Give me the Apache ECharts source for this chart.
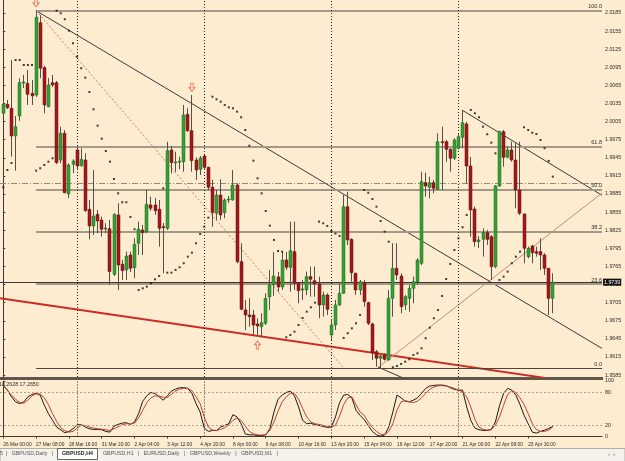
<!DOCTYPE html>
<html>
<head>
<meta charset="utf-8">
<script src="https://cdn.jsdelivr.net/npm/echarts@6/dist/echarts.min.js"></script>
<style>
  html, body { margin: 0; padding: 0; background: #fdecd0; }
  #chart { width: 625px; height: 461px; }
</style>
</head>
<body>
<div id="chart"></div>
<script>
// GBPUSD,H4 - one bar per entry, first bar 26 Mar 00:00
var opens = [2.00188,2.00337,2.00271,1.99812,2.00143,2.00690,2.00685,2.00519,2.00491,2.01689,
  2.00944,2.00297,2.00695,2.00695,1.99414,1.99857,1.98851,1.99343,1.99580,1.99320,
  1.99414,1.98597,1.98321,1.98514,1.98420,1.98276,1.98276,1.97520,1.98503,1.97686,
  1.97592,1.97840,1.97630,1.98034,1.98254,1.98226,1.98669,1.98669,1.98597,1.98309,
  1.98282,1.99580,1.99370,1.99386,1.99386,2.00171,1.99900,1.99414,1.99260,1.99481,
  1.99293,1.98962,1.98531,1.98834,1.98541,1.98751,1.98751,1.98999,1.97729,1.96929,
  1.96846,1.96846,1.96697,1.96652,1.96708,1.97144,1.97343,1.97476,1.97310,1.97757,
  1.97636,1.97895,1.97371,1.97260,1.97260,1.97481,1.97414,1.97360,1.97012,1.97177,
  1.96515,1.96680,1.97012,1.97205,1.98640,1.98100,1.97537,1.97260,1.97371,1.97050,
  1.96697,1.96238,1.96128,1.96183,1.96100,1.97122,1.97620,1.97492,1.97012,1.97122,
  1.97288,1.97398,1.97702,1.99038,1.98962,1.99038,1.98929,1.99717,1.99717,1.99591,
  1.99442,1.99608,1.99790,2.00011,1.99315,1.98602,1.98060,1.98100,1.98210,1.98143,
  1.97646,1.98983,1.99883,1.99459,1.99580,1.99414,1.98917,1.98519,1.97812,1.97989,
  1.97895,1.97895,1.97840,1.97620,1.97122];
var closes = [2.00342,2.00281,1.99812,1.99966,2.00695,2.00707,2.00503,2.00475,2.01779,2.00934,
  2.00326,2.00657,2.00657,1.99370,1.99857,1.98872,1.99331,1.99398,1.99315,1.99426,
  1.98574,1.98321,1.98486,1.98403,1.98266,1.98287,1.97564,1.98514,1.97674,1.97580,
  1.97823,1.97620,1.98017,1.98266,1.98210,1.98680,1.98614,1.98574,1.98282,1.98292,
  1.99568,1.99370,1.99381,1.99394,2.00160,1.99900,1.99403,1.99248,1.99447,1.99293,
  1.98962,1.98541,1.98834,1.98503,1.98751,1.98768,1.98999,1.97729,1.96940,1.96846,
  1.96818,1.96680,1.96664,1.96718,1.97122,1.97343,1.97492,1.97310,1.97757,1.97636,
  1.97911,1.97371,1.97248,1.97277,1.97481,1.97437,1.97360,1.97012,1.97177,1.96940,
  1.96680,1.97012,1.97205,1.98640,1.98089,1.97547,1.97260,1.97398,1.97066,1.96708,
  1.96221,1.96128,1.96166,1.96112,1.97122,1.97620,1.97509,1.96983,1.97149,1.97288,
  1.97398,1.97757,1.99055,1.98983,1.99038,1.98945,1.99717,1.99701,1.99591,1.99442,
  1.99746,1.99800,2.00032,1.99315,1.98586,1.98060,1.98089,1.98210,1.98100,1.97646,
  1.98983,1.99883,1.99459,1.99580,1.99414,1.98917,1.98531,1.97951,1.97951,1.97878,
  1.97868,1.97840,1.97620,1.97122,1.97390];
var lows = [2.00160,2.00259,1.99469,1.99237,2.00065,2.00607,2.00326,2.00326,2.00458,2.00768,
  2.00188,2.00287,2.00624,1.99348,1.99360,1.98862,1.98779,1.99194,1.99248,1.99303,
  1.98558,1.98100,1.98172,1.98200,1.98143,1.98200,1.97343,1.97492,1.97260,1.97426,
  1.97426,1.97559,1.97454,1.97840,1.97840,1.98200,1.98569,1.98503,1.97978,1.97537,
  1.98254,1.99194,1.99220,1.99260,1.99220,1.99878,1.99220,1.99083,1.99166,1.99248,
  1.98917,1.98309,1.98420,1.98420,1.98448,1.98702,1.98740,1.97703,1.96929,1.96597,
  1.96652,1.96515,1.96515,1.96486,1.96680,1.96929,1.97161,1.97227,1.97260,1.97592,
  1.97232,1.97260,1.97040,1.97094,1.97177,1.97149,1.97149,1.96791,1.96818,1.96846,
  1.96432,1.96597,1.96995,1.97194,1.98006,1.97398,1.97177,1.97177,1.96983,1.96680,
  1.96100,1.95989,1.95963,1.96089,1.96089,1.96818,1.97426,1.96874,1.96929,1.96900,
  1.97040,1.97343,1.97674,1.98806,1.98779,1.98862,1.98917,1.98917,1.99386,1.99220,
  1.99414,1.99591,1.99608,1.99028,1.98143,1.97978,1.97956,1.97812,1.98006,1.97426,
  1.97620,1.98972,1.99303,1.99442,1.99386,1.98614,1.98503,1.97703,1.97785,1.97703,
  1.97812,1.97592,1.97509,1.96846,1.96874];
var highs = [2.00408,2.00408,2.01071,2.00143,2.00768,2.00823,2.00905,2.00740,2.01888,2.01817,
  2.00972,2.00773,2.00823,2.00723,1.99966,1.99911,1.99360,1.99426,1.99635,1.99608,
  1.99525,1.98751,1.99248,1.98586,1.98475,1.98365,1.98420,1.98531,1.98697,1.97757,
  1.97895,1.97895,1.98117,1.98392,1.98337,1.98917,1.98806,1.98785,1.98751,1.98370,
  1.99717,1.99646,1.99552,1.99469,2.00326,2.00271,2.00491,1.99459,1.99481,1.99497,
  1.99303,1.99083,1.98917,1.99094,1.98779,1.98818,1.99248,1.99028,1.98034,1.97094,
  1.97122,1.96929,1.96791,1.96874,1.97205,1.97592,1.97890,1.97559,1.97890,1.97890,
  1.98392,1.98392,1.97371,1.97426,1.97564,1.97646,1.97646,1.97481,1.97232,1.97205,
  1.96763,1.97094,1.97360,1.98834,1.98889,1.98117,1.97547,1.97426,1.97426,1.97066,
  1.96718,1.96266,1.96183,1.96211,1.97260,1.98034,1.98034,1.97537,1.97177,1.97343,
  1.97481,1.97785,1.99220,1.99204,1.99138,1.99083,1.99857,1.99966,1.99746,1.99608,
  1.99774,1.99857,2.00243,2.00049,1.99464,1.98640,1.98155,1.98282,1.98254,1.98172,
  1.98999,1.99900,1.99911,1.99635,1.99717,1.99691,1.99717,1.98531,1.97978,1.98006,
  1.97978,1.98117,1.97868,1.97620,1.97537];
// Parabolic SAR dots
var sar = [1.98962,1.99248,1.99364,2.01071,2.01071,2.00988,2.00988,2.00988,1.99237,1.99277,
  1.99331,1.99386,1.99442,2.01888,2.01845,2.01746,2.01557,2.01348,2.01126,2.00934,
  2.00778,2.00541,2.00254,1.99983,1.99767,1.99563,1.99386,1.99099,1.98862,1.98713,
  1.98713,1.98470,1.98266,1.97260,1.97288,1.97315,1.97371,1.97437,1.97492,1.98945,
  1.97547,1.97547,1.97592,1.97636,1.97703,1.97812,1.97878,1.98034,1.98188,1.98309,
  1.98458,2.00463,2.00420,2.00380,2.00326,2.00287,2.00271,2.00215,2.00122,1.99911,
  1.99651,1.99403,1.99111,1.98862,1.98569,1.98326,1.98089,1.97906,1.97895,1.96476,
  1.96515,1.96569,1.96680,1.96796,1.96901,1.96973,1.97050,1.98392,1.98365,1.98321,
  1.98238,1.98196,1.98155,1.96465,1.96543,1.96625,1.96708,1.96846,1.98917,1.98872,
  1.98768,1.98640,1.98403,1.98226,1.98060,1.95979,1.96001,1.96034,1.96072,1.96112,
  1.96183,1.96211,1.96294,1.96460,1.96635,1.96791,1.96929,1.97161,1.97442,1.97691,
  1.97923,1.98117,1.98299,1.98503,2.00243,2.00188,2.00122,1.99966,1.99840,1.99701,
  1.99525,1.97426,1.97481,1.97564,1.97703,1.97812,1.97895,1.99956,1.99911,1.99866,
  1.99845,1.99746,1.99608,1.99398,1.99138];
// Stochastic main and signal
var stochK = [92.7,83.6,71.5,62.4,59.4,62.4,71.5,75.8,77.6,74.5,
  56.4,41.2,29.1,17,12.1,6.7,9.1,13.9,21.2,21.2,
  17,13.9,12.7,12.7,12.1,9.1,7.9,18.8,21.8,24.2,
  24.8,21.8,26.1,41.2,63.6,73.3,79.3,77.6,71.5,65.4,
  73.3,81.8,85.4,87.9,87.9,86.7,77.6,59.4,44.2,15.2,
  9.1,10.9,10.9,17,20,23,39.4,35.2,23,4.8,
  3,3,1.8,1.8,3,13.9,44.2,67.3,74.5,79.3,
  81.8,73.3,53.3,29.1,23,24,21.2,20,18.2,16.4,
  17,35.2,61.2,74.5,75.8,69.7,47.3,38.2,30.3,20,
  9.1,3,0.6,3,17,44.2,74.5,69.7,63.6,62.4,
  65.4,69.7,77.6,86.7,90.9,92.1,92.7,92.7,91.5,87.9,
  84.8,83.6,83.6,53.3,29.1,15.2,12.1,10.9,10.9,12.7,
  26.1,55.2,77.6,86.7,83.6,74.5,57.6,38.2,23,7.9,
  6.1,9.1,11.5,14.5,18.26];
var stochD = [91.5,83.6,74.5,67.3,61.2,60,65.4,73.3,76.9,76.4,
  69.7,57.6,41.2,27.3,15.8,10.3,7.9,9.1,15.2,20,
  20,17,15.2,13.9,13.3,12.1,10.9,13.9,17.6,21.2,
  23,23,24.2,33.3,47.3,61.2,69.7,73.3,72.7,70.9,
  70.3,75.8,81.8,85.4,86.7,86.7,82.4,71.5,59.4,35.2,
  17,11.5,10.9,12.7,15.8,21.2,29.1,33.3,29.1,18.8,
  9.1,4.8,3,2.4,3.6,10.9,26.1,45.5,62.4,71.5,
  77.6,77.6,67.3,50.3,35.2,26.1,23,21.8,20,18.2,
  17,20,37,57.6,69.7,71.5,57.6,44.2,38.2,26.1,
  16.4,9.1,4.2,3.6,9.1,23,47.3,62.4,64.8,62.4,
  61.2,63.6,69.7,77.6,85.4,89.1,91.5,91.5,90.9,89.1,
  86.7,83.6,80.6,71.5,53.3,30.9,17,12.7,11.5,12.1,
  20,35.2,56.4,75.8,82.4,79.3,69.7,57.6,41.2,23,
  12.7,9.1,9.1,11.5,17.27];

// time scale: one label every 8 bars
var timeLabels = ['26 Mar 00:00','27 Mar 08:00','28 Mar 16:00','31 Mar 20:00','2 Apr 04:00',
  '3 Apr 12:00','4 Apr 20:00','8 Apr 00:00','9 Apr 08:00','10 Apr 16:00','13 Apr 20:00',
  '15 Apr 04:00','16 Apr 12:00','17 Apr 20:00','21 Apr 00:00','22 Apr 08:00','23 Apr 16:00'];
var priceTicks = [2.0185,2.0155,2.0125,2.0095,2.0065,2.0035,2.0005,1.9975,1.9945,1.9915,
  1.9885,1.9855,1.9825,1.9795,1.9765,1.9735,1.9705,1.9675,1.9645,1.9615,1.9585];
var stochTicks = [0, 20, 80, 100];
var weekStarts = [18, 49, 80, 111];

// fibonacci retracement
var fibNames = ['100.0', '61.8', '50.0', '38.2', '23.6', '0.0'];
var fibPrices = [2.01888, 1.99630, 1.98929, 1.98221, 1.97359, 1.95967];
var fibAnchor = [[8, 2.01888], [83, 1.95967]];

var bidPrice = 1.9739;
var dashLevel = 1.99033;
// trend lines [bar, price]
var lineFromTop = [[8, 2.01888], [146, 1.96291]];
var lineRed = [[-0.8, 1.97123], [132.1, 1.95803]];
var lineUpperRight = [[112, 2.00236], [146, 1.98829]];
var lineRising = [[91.4, 1.95975], [146, 1.98867]];
var lineShort = [[91.4, 1.95983], [97.5, 1.95801]];
var arrowsDown = [[8, 2.0202], [46, 2.00619]];
var arrowsUp = [[62, 1.96349]];

var candleData = opens.map(function (o, i) { return [i, o, closes[i], lows[i], highs[i]]; });
var sarData = sar.map(function (v, i) { return [i, v]; });
var kData = stochK.map(function (v, i) { return [i, v]; });
var dData = stochD.map(function (v, i) { return [i, v]; });

var FONT = 'Liberation Sans';
var txt = '#2b2b2b';

function renderCandle(params, api) {
  var i = api.value(0);
  var o = api.coord([i, api.value(1)]);
  var c = api.coord([i, api.value(2)]);
  var l = api.coord([i, api.value(3)]);
  var h = api.coord([i, api.value(4)]);
  var up = api.value(2) >= api.value(1);
  var xc = Math.floor(o[0]) + 0.5;
  var top = Math.min(o[1], c[1]);
  var bot = Math.max(o[1], c[1]);
  return {
    type: 'group',
    children: [
      { type: 'line', shape: { x1: xc, y1: h[1], x2: xc, y2: l[1] },
        style: { stroke: '#555048', lineWidth: 1 } },
      { type: 'rect', shape: { x: xc - 1.5, y: top, width: 3, height: Math.max(bot - top, 1) },
        style: { fill: up ? '#35a035' : '#a3191b', stroke: up ? '#1f6a1f' : '#6a0e0e', lineWidth: 0.5 } }
    ]
  };
}

function trend(data, color, width, type) {
  return {
    type: 'line', data: data, symbol: 'none', silent: true, clip: true,
    xAxisIndex: 0, yAxisIndex: 0, z: 3,
    lineStyle: { color: color, width: width, type: type || 'solid' }
  };
}

var fibLines = fibPrices.map(function (p, k) {
  var dark = fibNames[k] === '0.0';
  return [
    { coord: [8, p], lineStyle: { color: dark ? '#4a4540' : '#a39a8c', width: dark ? 1 : 2, type: 'solid' },
      label: { show: true, formatter: fibNames[k], position: 'insideEndTop', distance: [0, 1],
        fontSize: 5.5, fontFamily: FONT, color: txt } },
    { coord: [146, p] }
  ];
});

var chart = echarts.init(document.getElementById('chart'));
chart.setOption({
  animation: false,
  backgroundColor: '#fdecd0',
  grid: [
    { left: 0, right: 23, top: 0, height: 377 },
    { left: 0, right: 23, top: 381, height: 55.5 }
  ],
  xAxis: [
    { type: 'value', gridIndex: 0, min: -0.805, max: 146, show: false },
    { type: 'value', gridIndex: 1, min: -0.805, max: 146,
      axisLine: { show: true, onZero: false, lineStyle: { color: '#3c3a36' } },
      axisTick: { show: true, customValues: timeLabels.map(function (t, k) { return k * 8; }),
        length: 2, lineStyle: { color: '#3c3a36' } },
      axisLabel: { customValues: timeLabels.map(function (t, k) { return k * 8; }),
        formatter: function (v) { return timeLabels[Math.round(v / 8)]; },
        align: 'left', margin: 6, fontSize: 4.8, fontFamily: FONT, color: txt },
      splitLine: { show: false } }
  ],
  yAxis: [
    { type: 'value', gridIndex: 0, position: 'right', min: 1.95818, max: 2.02065,
      axisLine: { show: true, lineStyle: { color: '#3c3a36' } },
      axisTick: { show: true, customValues: priceTicks, length: 2, lineStyle: { color: '#3c3a36' } },
      axisLabel: { customValues: priceTicks, formatter: function (v) { return v.toFixed(4); },
        margin: 3, fontSize: 5.3, fontFamily: FONT, color: txt },
      splitLine: { show: false } },
    { type: 'value', gridIndex: 1, position: 'right', min: 0, max: 100,
      axisLine: { show: true, lineStyle: { color: '#3c3a36' } },
      axisTick: { show: true, customValues: stochTicks, length: 2, lineStyle: { color: '#3c3a36' } },
      axisLabel: { customValues: stochTicks, formatter: function (v) { return String(v); },
        margin: 3, fontSize: 5.3, fontFamily: FONT, color: txt },
      splitLine: { show: false } }
  ],
  series: [
    {
      type: 'line', data: [[0, bidPrice], [1, bidPrice]], symbol: 'none', lineStyle: { width: 0, opacity: 0 },
      xAxisIndex: 0, yAxisIndex: 0, silent: true, z: 1,
      markLine: {
        silent: true, symbol: 'none', animation: false, precision: 6,
        data: fibLines.concat([
          { yAxis: dashLevel, lineStyle: { color: '#8f8a82', width: 1, type: [6, 2, 1, 2] }, label: { show: false } },
          { yAxis: bidPrice, lineStyle: { color: '#3a3631', width: 1, type: 'solid' },
            label: { show: true, position: 'end', formatter: '1.9739', distance: 1, fontSize: 5.3,
              fontFamily: FONT, color: '#fff', backgroundColor: '#111', padding: [1, 1] } }
        ]).concat(weekStarts.map(function (w) {
          return { xAxis: w, lineStyle: { color: '#222', width: 1, type: [1, 2] }, label: { show: false } };
        }))
      }
    },
    trend(fibAnchor, '#d8775a', 1, [2, 2]),
    trend(lineFromTop, '#3a3a3a', 1),
    trend(lineRed, '#cc2b22', 2),
    trend(lineUpperRight, '#3a3a3a', 1),
    trend(lineRising, '#c98a74', 1),
    trend(lineShort, '#3a3a3a', 1),
    {
      type: 'custom', renderItem: renderCandle, data: candleData, clip: true,
      xAxisIndex: 0, yAxisIndex: 0, encode: { x: 0, y: [1, 2, 3, 4] }, z: 5
    },
    {
      type: 'scatter', data: sarData, symbol: 'rect', symbolSize: 2,
      itemStyle: { color: '#111' }, xAxisIndex: 0, yAxisIndex: 0, z: 6, silent: true
    },
    {
      type: 'scatter', data: arrowsDown, symbol: 'path://M3,0 L7,0 L7,6 L10,6 L5,11 L0,6 L3,6 Z',
      symbolSize: [6, 8], itemStyle: { color: 'rgba(0,0,0,0)', borderColor: '#e26248', borderWidth: 1 },
      xAxisIndex: 0, yAxisIndex: 0, z: 6, silent: true
    },
    {
      type: 'scatter', data: arrowsUp, symbol: 'path://M3,0 L7,0 L7,6 L10,6 L5,11 L0,6 L3,6 Z',
      symbolSize: [6, 8], symbolRotate: 180,
      itemStyle: { color: 'rgba(0,0,0,0)', borderColor: '#e26248', borderWidth: 1 },
      xAxisIndex: 0, yAxisIndex: 0, z: 6, silent: true
    },
    {
      type: 'line', data: kData, symbol: 'none', xAxisIndex: 1, yAxisIndex: 1, z: 4,
      lineStyle: { color: '#1a1a1a', width: 1 },
      markLine: {
        silent: true, symbol: 'none', animation: false, precision: 6, label: { show: false },
        data: [
          { yAxis: 20, lineStyle: { color: '#a9a398', width: 1, type: [2, 2] } },
          { yAxis: 80, lineStyle: { color: '#a9a398', width: 1, type: [2, 2] } }
        ].concat(weekStarts.map(function (w) {
          return { xAxis: w, lineStyle: { color: '#222', width: 1, type: [1, 2] } };
        }))
      }
    },
    {
      type: 'line', data: dData, symbol: 'none', xAxisIndex: 1, yAxisIndex: 1, z: 4,
      lineStyle: { color: '#c2402e', width: 1 }
    }
  ],
  graphic: [
    { type: 'rect', shape: { x: 0, y: 377, width: 603, height: 3 }, style: { fill: '#5e574c' }, silent: true },
    { type: 'text', x: -1, y: 382, style: { text: '18.2628 17.2650', font: '5.3px "Liberation Sans"', fill: txt } },
    { type: 'rect', shape: { x: 0, y: 448.5, width: 625, height: 13 }, style: { fill: '#f3f1eb', stroke: '#b5ae9f', lineWidth: 1 }, silent: true },
    { type: 'rect', shape: { x: 57.5, y: 448.5, width: 40, height: 11 }, style: { fill: '#ffffff', stroke: '#6b665c', lineWidth: 1 }, silent: true },
    { type: 'text', x: 0, y: 451.5, style: { text: '5  |   GBPUSD,Daily   |', font: '5.3px "Liberation Sans"', fill: '#555' } },
    { type: 'text', x: 62, y: 451.5, style: { text: 'GBPUSD,H4', font: 'bold 5.3px "Liberation Sans"', fill: '#222' } },
    { type: 'text', x: 103, y: 451.5, style: { text: 'GBPUSD,H1   |   EURUSD,Daily   |   GBPUSD,Weekly   |   GBPUSD,M1   |', font: '5.3px "Liberation Sans"', fill: '#555' } },
    { type: 'text', x: 608, y: 451.5, style: { text: '\u2039  \u203a', font: '6px "Liberation Sans"', fill: '#777' } }
  ]
});
</script>
</body>
</html>
